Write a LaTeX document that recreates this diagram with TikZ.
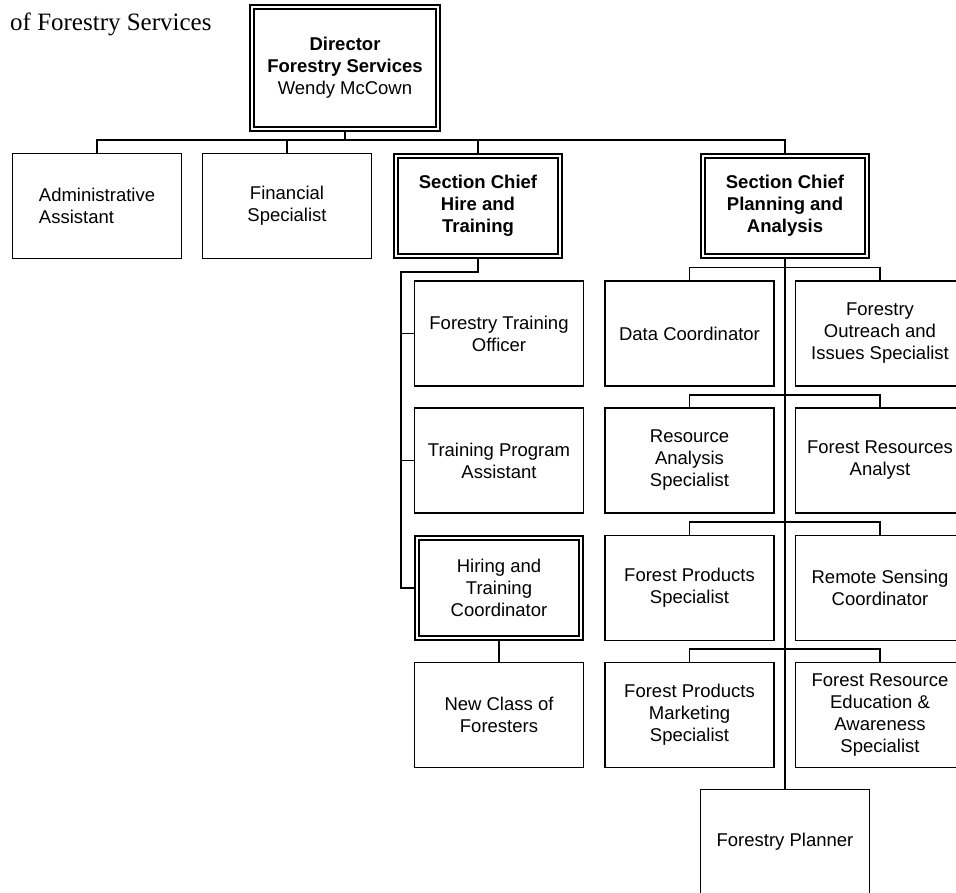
\documentclass[tikz,border=0pt]{standalone}
\usepackage{fontspec}
\setmainfont{Liberation Sans}
\newfontfamily\titlefont{Liberation Serif}

\begin{document}
\begin{tikzpicture}[
  x=1pt, y=-1pt,
  font=\fontsize{18.5}{22}\selectfont,
  box/.style={draw, line width=1.3pt, align=center, minimum width=169pt, minimum height=105pt, inner sep=2pt},
  dbox/.style={box, double, line width=1.5pt, double distance=2.6pt, minimum width=164pt, minimum height=100pt, outer sep=2.8pt},
  chief/.style={dbox, font=\fontsize{18.5}{22}\selectfont\bfseries},
  link/.style={line width=1.3pt},
  rail/.style={line width=2pt}
]
\useasboundingbox (0,0) rectangle (956,892);
\fill[white] (0,0) rectangle (956,892);
\clip (0,0) rectangle (956,892);

\node[anchor=base west, inner sep=0pt, font=\titlefont\fontsize{25}{29}\selectfont] (title) at (10,30) {of Forestry Services};

\node[chief, minimum width=186pt, minimum height=122pt] (dir) at (345,68) {Director\\Forestry Services\\{\mdseries Wendy McCown}};

\node[box, align=left] (admin) at (97,206) {Administrative\\Assistant};
\node[box] (fin) at (287,206) {Financial\\Specialist};
\node[chief] (hire) at (478,206) {Section Chief\\Hire and\\Training};
\node[chief] (plan) at (785,206) {Section Chief\\Planning and\\Analysis};

\node[box] (fto) at (499,333.5) {Forestry Training\\Officer};
\node[box] (tpa) at (499,460.5) {Training Program\\Assistant};
\node[dbox] (htc) at (499,588) {Hiring and\\Training\\Coordinator};
\node[box] (ncf) at (499,715) {New Class of\\Foresters};

\node[box] (dc) at (689.5,333.5) {Data Coordinator};
\node[box] (fo) at (880,333.5) {Forestry\\Outreach and\\Issues Specialist};
\node[box] (ras) at (689.5,460.5) {Resource\\Analysis\\Specialist};
\node[box] (fra) at (880,460.5) {Forest Resources\\Analyst};
\node[box] (fps) at (689.5,588) {Forest Products\\Specialist};
\node[box] (rsc) at (880,588) {Remote Sensing\\Coordinator};
\node[box] (fpm) at (689.5,715) {Forest Products\\Marketing\\Specialist};
\node[box] (fre) at (880,715) {Forest Resource\\Education \&\\Awareness\\Specialist};
\node[box] (fpl) at (785,842) {Forestry Planner};

\coordinate (bus) at (345,140);
\coordinate (hrail) at (401,272);

\draw[link] (dir.south) -- (bus);
\draw[link] (admin.north) |- (bus) -| (plan.north);
\draw[link] (fin.north) -- (fin.north |- bus); \draw[link] (hire.north) -- (hire.north |- bus);

\draw[rail] (hire.south) |- (hrail) |- (htc.west);
\draw[link] (fto.west) -- (fto.west -| hrail); \draw[link] (tpa.west) -- (tpa.west -| hrail);
\draw[link] (htc.south) -- (ncf.north);

\draw[rail] (plan.south) -- (fpl.north);
\draw[link] (dc.north) -- ++(0,-13) -| (fo.north);
\draw[link] (ras.north) -- ++(0,-12.5) -| (fra.north);
\draw[link] (fps.north) -- ++(0,-13) -| (rsc.north);
\draw[link] (fpm.north) -- ++(0,-13) -| (fre.north);
\end{tikzpicture}
\end{document}
